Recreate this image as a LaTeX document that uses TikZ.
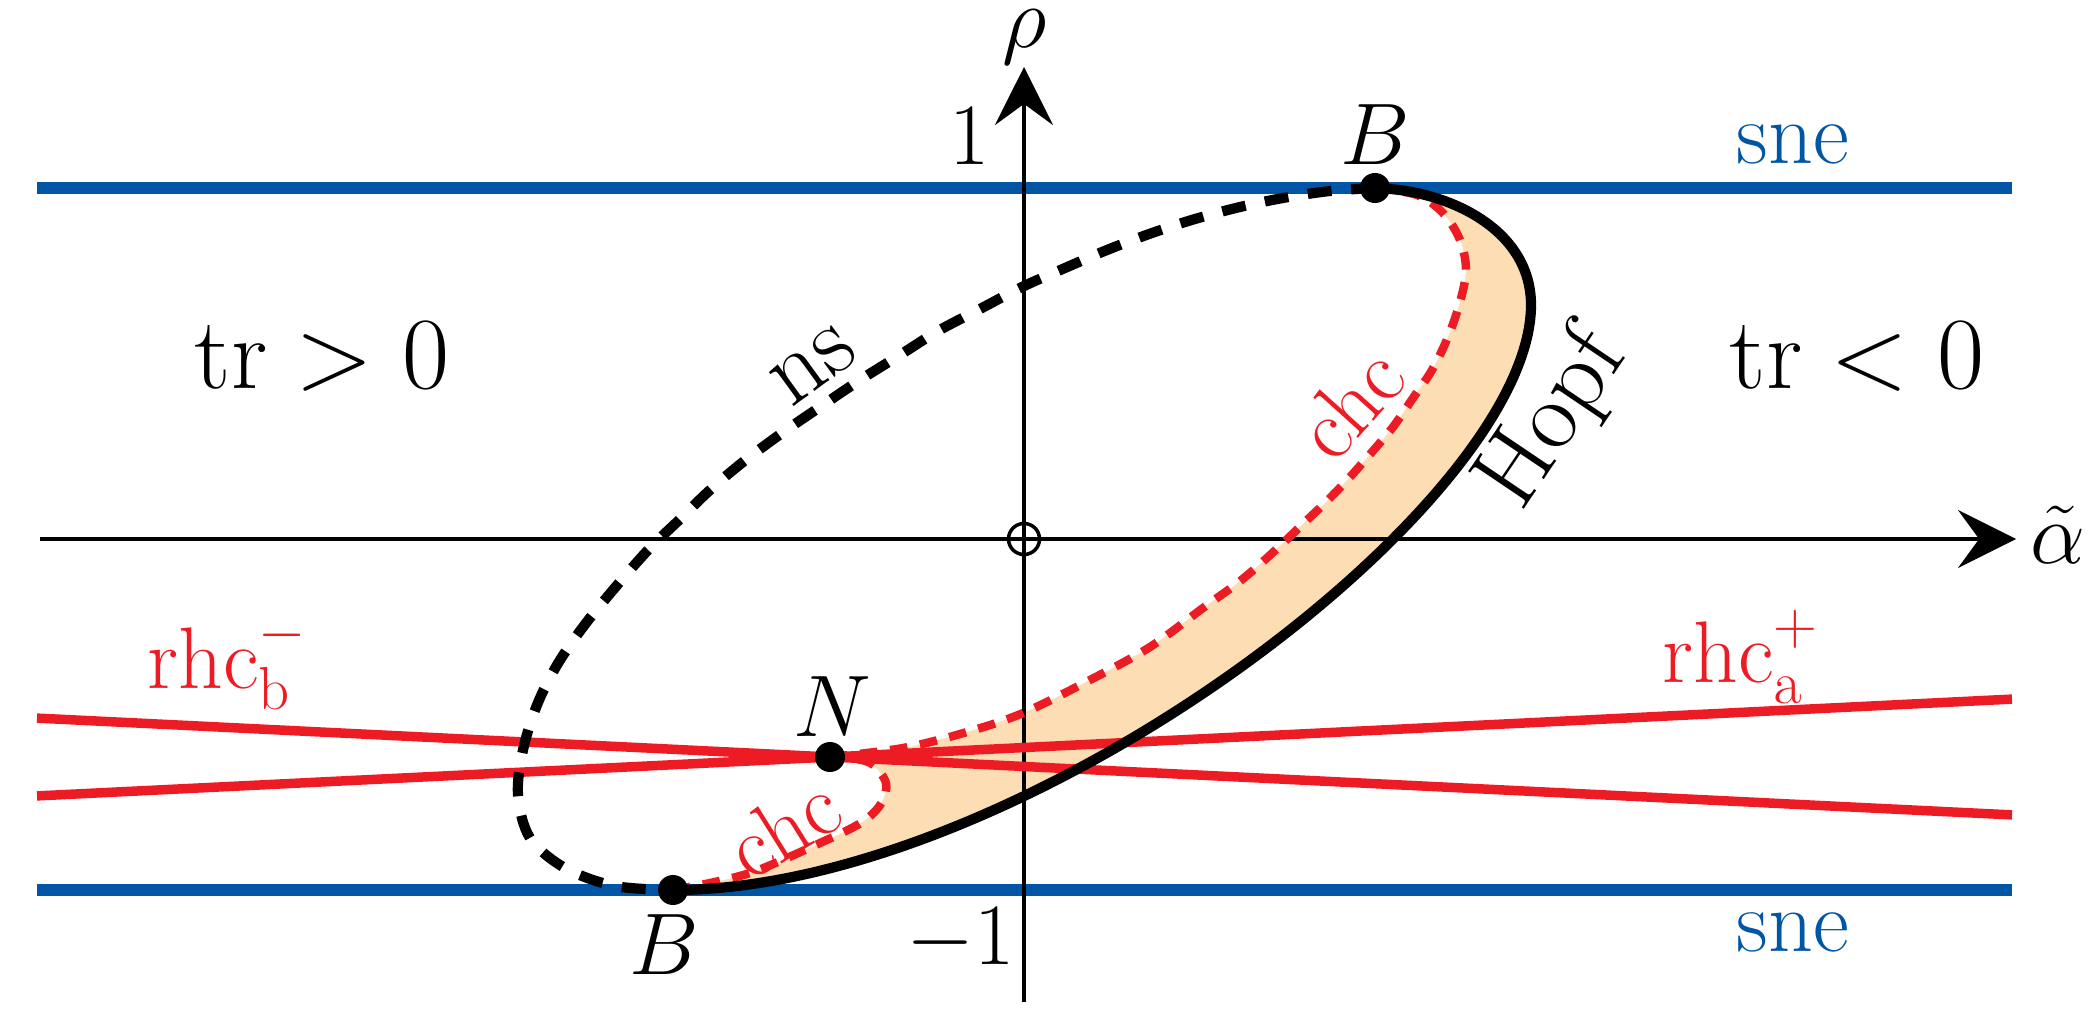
\documentclass[tikz,border=0pt]{standalone}
\usetikzlibrary{arrows.meta}
\definecolor{sneblue}{RGB}{0,85,165}
\definecolor{rhcred}{RGB}{237,28,36}
\definecolor{peach}{RGB}{253,221,180}
\tikzset{
  axisline/.style={line width=1pt, -{Stealth[length=16.5pt,width=16.5pt,inset=6pt]}},
  sneline/.style={sneblue, line width=3.3pt},
  rhcline/.style={rhcred, line width=2.7pt},
  hopfline/.style={black, line width=2.9pt},
  nsline/.style={black, line width=2.9pt, dash pattern=on 6.8pt off 5.6pt},
  chcline/.style={rhcred, line width=2.4pt, dash pattern=on 5pt off 3.6pt},
  dotnode/.style={circle, fill=black, inner sep=0pt, minimum size=0.3cm},
  lbl/.style={font=\fontsize{24}{28}\selectfont, inner sep=0pt},
  midlbl/.style={font=\fontsize{25}{29}\selectfont, inner sep=0pt},
  biglbl/.style={font=\fontsize{28}{32}\selectfont, inner sep=0pt},
  bigmath/.style={font=\fontsize{24.88}{28}\selectfont, inner sep=0pt, scale=1.17, transform shape},
}
\begin{document}
\begin{tikzpicture}[x=0.01cm,y=-0.01cm]
\useasboundingbox (0,0) rectangle (2100,1009);

% key coordinates
\coordinate (bt) at (1375,188);
\coordinate (bb) at (673,890);
\coordinate (nn) at (830,757);
\coordinate (hr) at (1531,305);

% filled region between chc and Hopf
\fill[peach]
  (bt) .. controls (1450,190) and (1531,230) .. (hr)
       .. controls (1531,505) and (1023,890) .. (bb)
  -- plot[smooth,tension=0.55] coordinates {(673,890) (710,883) (750,873) (787,858) (820,843) (848,830) (868,818) (882,802) (886,783) (872,764) (850,758) (830,757)}
  -- plot[smooth,tension=0.55] coordinates {(830,757) (903,748) (967,732) (1023,713) (1090,680) (1150,647) (1203,608) (1235,585) (1258,566) (1283,543) (1305,522) (1328,500) (1350,477) (1372,452) (1393,427) (1413,398) (1432,370) (1448,337) (1460,302) (1466,270) (1460,240) (1443,213) (1417,195) (1375,188)}
  -- cycle;

% coordinates
\coordinate (sTL) at (37,188);  \coordinate (sTR) at (2012,188);
\coordinate (sBL) at (37,890);  \coordinate (sBR) at (2012,890);
\coordinate (xl) at (40,539);   \coordinate (xr) at (2016,539);
\coordinate (yb) at (1024,1002); \coordinate (yt) at (1024,67);
\coordinate (raL) at (37,795.9); \coordinate (raR) at (2012,699.1);
\coordinate (rbL) at (37,718.1); \coordinate (rbR) at (2012,814.9);

% sne lines
\draw[sneline] (sTL) -- (sTR);
\draw[sneline] (sBL) -- (sBR);

% axes
\draw[axisline] (xl) -- (xr);
\draw[axisline] (yb) -- (yt);
\node[circle, draw, line width=1pt, minimum size=0.31cm, inner sep=0pt] (O) at (1024,539) {};

% rhc lines
\draw[rhcline] (rbL) -- (rbR);
\draw[rhcline] (raL) -- (raR);

% ns (dashed)
\draw[nsline] plot[smooth,tension=0.55] coordinates {(1375,188) (1330,191) (1283,198) (1240,207) (1195,219) (1152,233) (1107,250) (1065,268) (1022,287) (980,309) (938,331) (900,355) (860,380) (820,407) (782,433) (743,462) (710,490) (677,522) (648,550) (613,590) (583,627) (557,665) (537,705) (523,750) (518,795) (530,838) (565,868) (615,886) (673,890)};

% chc (dashed red)
\draw[chcline] plot[smooth,tension=0.55] coordinates {(830,757) (903,748) (967,732) (1023,713) (1090,680) (1150,647) (1203,608) (1235,585) (1258,566) (1283,543) (1305,522) (1328,500) (1350,477) (1372,452) (1393,427) (1413,398) (1432,370) (1448,337) (1460,302) (1466,270) (1460,240) (1443,213) (1417,195) (1375,188)};
\draw[chcline] plot[smooth,tension=0.55] coordinates {(673,890) (710,883) (750,873) (787,858) (820,843) (848,830) (868,818) (882,802) (886,783) (872,764) (850,758) (830,757)};

% Hopf
\draw[hopfline] (bt) .. controls (1450,190) and (1531,230) .. (hr)
       .. controls (1531,505) and (1023,890) .. (bb);

% points
\node[dotnode] (BT) at (bt) {};
\node[dotnode] (BB) at (bb) {};
\node[dotnode] (N) at (nn) {};

% labels
\node[lbl] (lrho) at (1025,37) {$\rho$};
\node[lbl] (lalpha) at (2058,535) {$\tilde\alpha$};
\node[lbl] (lone) at (970,136) {$1$};
\node[lbl] (lmone) at (961,940) {$-1$};
\node[lbl] (lBT) at (1375,135) {$B$};
\node[lbl] (lBB) at (664,945) {$B$};
\node[lbl] (lN) at (832,707) {$N$};
\node[bigmath] (ltrp) at (322,357) {$\mathrm{tr} > 0$};
\node[bigmath] (ltrn) at (1857,357) {$\mathrm{tr} < 0$};
\node[midlbl, text=sneblue, anchor=base] (lsneT) at (1793,163) {sne};
\node[midlbl, text=sneblue, anchor=base] (lsneB) at (1793,951) {sne};
\node[midlbl, text=rhcred, anchor=base west] (lrhcb) at (147,688) {$\mathrm{rhc}_{\mathrm{b}}^{-}$};
\node[midlbl, text=rhcred, anchor=base west] (lrhca) at (1662,682) {$\mathrm{rhc}_{\mathrm{a}}^{+}$};
\node[biglbl, rotate=56] (lhopf) at (1554,420) {Hopf};
\node[midlbl, text=rhcred, rotate=48] (lchc1) at (1350,403) {chc};
\node[midlbl, text=rhcred, rotate=32] (lchc2) at (783,827) {chc};
\node[biglbl, rotate=36] (lns) at (814,366) {ns};
\end{tikzpicture}
\end{document}
